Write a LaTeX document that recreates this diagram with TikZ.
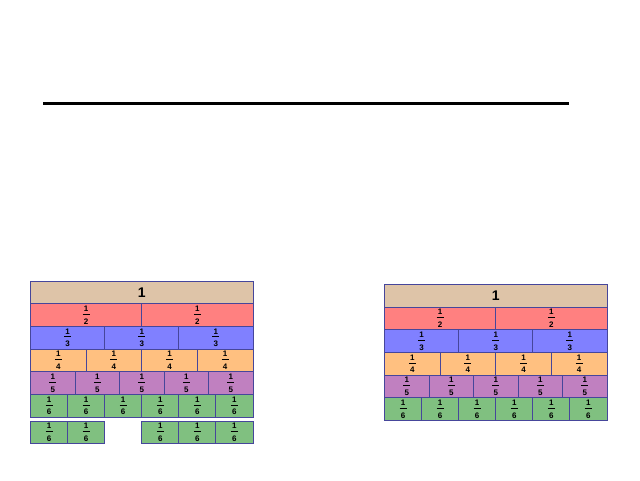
\documentclass[tikz,border=0pt]{standalone}
\usepackage{fontspec}
\setmainfont{Liberation Sans}
\definecolor{edge}{RGB}{70,70,155}
\definecolor{whole}{RGB}{222,196,168}
\definecolor{half}{RGB}{255,128,128}
\definecolor{third}{RGB}{128,128,255}
\definecolor{quarter}{RGB}{255,192,128}
\definecolor{fifth}{RGB}{192,128,192}
\definecolor{sixth}{RGB}{128,192,128}
\newcommand{\onepart}[1]{1\\\raisebox{3.2pt}{\rule{7pt}{0.8pt}}\\#1}

\begin{document}
\begin{tikzpicture}[x=1pt, y=-1pt,
    strip/.style={draw=edge, line width=1pt, inner sep=0pt, outer sep=0pt, anchor=north west,
        minimum height=22.7pt, align=center, font=\fontsize{8}{6.3}\selectfont\bfseries}]
    \useasboundingbox (0,0) rectangle (640,480);
    \coordinate (rule-l) at (43,103);
    \coordinate (rule-r) at (569,103);
    \draw[line width=3pt](rule-l)--(rule-r);
    % the two fraction walls
    \foreach \side/\xo/\yo in {L/30.5/281, R/384.5/284.3}{
        \node[strip, fill=whole, minimum width=222.5pt, font=\fontsize{14}{14}\selectfont\bfseries](\side1) at (\xo,\yo){1};
        \foreach \n/\c [count=\r] in {2/half,3/third,4/quarter,5/fifth,6/sixth}
            \foreach \k in {1,...,\n}{
                \pgfmathsetmacro{\w}{222.5/\n}
                \node[strip, fill=\c, minimum width=\w pt](\side\n-\k) at ({\xo+(\k-1)*\w}, {\yo+\r*22.7}){\onepart{\n}};
            }
    }
    % sixths with one piece taken away
    \foreach \k in {1,2,4,5,6}{
        \pgfmathsetmacro{\w}{222.5/6}
        \node[strip, fill=sixth, minimum width=\w pt](E6-\k) at ({30.5+(\k-1)*\w}, 421){\onepart{6}};
    }
\end{tikzpicture}
\end{document}
